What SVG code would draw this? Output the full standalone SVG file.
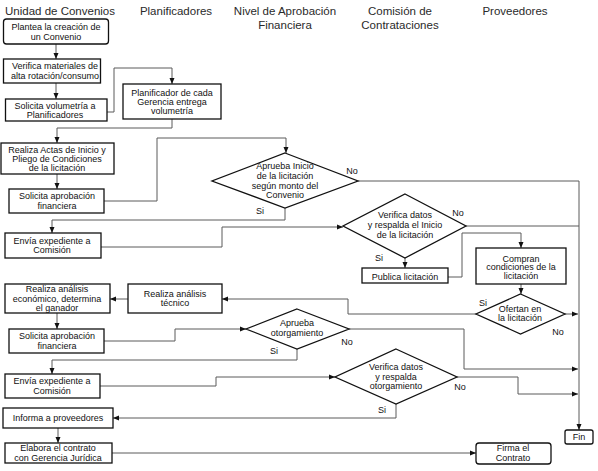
<svg xmlns="http://www.w3.org/2000/svg" width="598" height="471" viewBox="0 0 598 471">
<style>
.h{font-family:"Liberation Sans",Arial,sans-serif;font-size:11.5px;fill:#2a2a2a;text-anchor:middle}
.t{font-family:"Liberation Sans",Arial,sans-serif;font-size:9px;fill:#111;text-anchor:middle}
.b{fill:#fff;stroke:#111;stroke-width:1.3}
.c{fill:none;stroke:#5a5a5a;stroke-width:1}
</style>
<defs>
<marker id="a" markerUnits="userSpaceOnUse" markerWidth="6" markerHeight="6" refX="6" refY="3" orient="auto">
<path d="M0,0.5 L6,3 L0,5.5 z" fill="#111"/>
</marker>
</defs>
<rect width="598" height="471" fill="#fff"/>
<g id="headers">
<text class="h" x="60" y="15">Unidad de Convenios</text>
<text class="h" x="176" y="15">Planificadores</text>
<text class="h" x="285" y="15">Nivel de Aprobación</text>
<text class="h" x="285" y="29">Financiera</text>
<text class="h" x="400" y="15">Comisión de</text>
<text class="h" x="400" y="29">Contrataciones</text>
<text class="h" x="515" y="15">Proveedores</text>
</g>
<g id="connectors">
<path class="c" d="M56,44 V59" marker-end="url(#a)"/>
<path class="c" d="M56,83 V99" marker-end="url(#a)"/>
<path class="c" d="M107,112 H114 V68 H172 V84" marker-end="url(#a)"/>
<path class="c" d="M172,119 V128 H57 V143" marker-end="url(#a)"/>
<path class="c" d="M57,174 V189" marker-end="url(#a)"/>
<path class="c" d="M104,201 H157 V138 H286 V153" marker-end="url(#a)"/>
<path class="c" d="M285,208 V220 H52 V233" marker-end="url(#a)"/>
<path class="c" d="M358,181 H579 V430" marker-end="url(#a)"/>
<path class="c" d="M101,247 H222 V227 H343" marker-end="url(#a)"/>
<path class="c" d="M466,226 H579"/>
<path class="c" d="M405,258 V268" marker-end="url(#a)"/>
<path class="c" d="M448,277 H462 V233 H521 V248" marker-end="url(#a)"/>
<path class="c" d="M521,284 V294" marker-end="url(#a)"/>
<path class="c" d="M565,314 H578" marker-end="url(#a)"/>
<path class="c" d="M476,314 H348 V299 H222" marker-end="url(#a)"/>
<path class="c" d="M128,299 H110" marker-end="url(#a)"/>
<path class="c" d="M57,313 V329" marker-end="url(#a)"/>
<path class="c" d="M104,341 H175 V329 H246" marker-end="url(#a)"/>
<path class="c" d="M349,329 H464 V369 H578" marker-end="url(#a)"/>
<path class="c" d="M297,349 V360 H52 V374" marker-end="url(#a)"/>
<path class="c" d="M100,386 H216 V377 H335" marker-end="url(#a)"/>
<path class="c" d="M457,377 H518 V394 H578" marker-end="url(#a)"/>
<path class="c" d="M396,404 V418 H113" marker-end="url(#a)"/>
<path class="c" d="M58,428 V443" marker-end="url(#a)"/>
<path class="c" d="M112,453 H476" marker-end="url(#a)"/>
</g>
<g id="labels">
<text class="t" x="352" y="174">No</text>
<text class="t" x="260" y="214">Si</text>
<text class="t" x="458" y="216">No</text>
<text class="t" x="379" y="261">Si</text>
<text class="t" x="483" y="306">Si</text>
<text class="t" x="558" y="335">No</text>
<text class="t" x="347" y="345">No</text>
<text class="t" x="274" y="354">Si</text>
<text class="t" x="460" y="390">No</text>
<text class="t" x="382" y="413">Si</text>
</g>
<g id="n1"><rect class="b" x="3.5" y="19" width="105" height="25" rx="3"/><text class="t" x="56" y="30">Plantea la creación de</text><text class="t" x="56" y="39.5">un Convenio</text></g>
<g id="n2"><rect class="b" x="3.5" y="59" width="97" height="24"/><text class="t" x="55" y="69">Verifica materiales de</text><text class="t" x="55" y="79">alta rotación/consumo</text></g>
<g id="n3"><rect class="b" x="5.5" y="99" width="101.5" height="22"/><text class="t" x="55" y="109">Solicita volumetría a</text><text class="t" x="55" y="118">Planificadores</text></g>
<g id="n4"><rect class="b" x="123" y="84" width="98" height="35"/><text class="t" x="172" y="96">Planificador de cada</text><text class="t" x="172" y="105">Gerencia entrega</text><text class="t" x="172" y="114">volumetría</text></g>
<g id="n5"><rect class="b" x="1" y="143" width="113" height="31"/><text class="t" x="57" y="152.5">Realiza Actas de Inicio y</text><text class="t" x="57" y="161.5">Pliego de Condiciones</text><text class="t" x="57" y="170.5">de la licitación</text></g>
<g id="n6"><rect class="b" x="9" y="189" width="95" height="24"/><text class="t" x="57" y="199">Solicita aprobación</text><text class="t" x="57" y="208.5">financiera</text></g>
<g id="d1"><polygon class="b" points="285,153 358,181 285,208 212,181"/><text class="t" x="285" y="168.5">Aprueba Inicio</text><text class="t" x="285" y="178.5">de la licitación</text><text class="t" x="285" y="188.5">según monto del</text><text class="t" x="285" y="198">Convenio</text></g>
<g id="n7"><rect class="b" x="5" y="233" width="96" height="25"/><text class="t" x="52" y="243.5">Envía expediente a</text><text class="t" x="52" y="253">Comisión</text></g>
<g id="d2"><polygon class="b" points="405,194 466,226 405,258 343,226"/><text class="t" x="405" y="218">Verifica datos</text><text class="t" x="405" y="228">y respalda el Inicio</text><text class="t" x="405" y="237.5">de la licitación</text></g>
<g id="n8"><rect class="b" x="362" y="268" width="86" height="15"/><text class="t" x="405" y="279.5">Publica licitación</text></g>
<g id="n9"><rect class="b" x="476" y="248" width="90" height="36"/><text class="t" x="521" y="261.5">Compran</text><text class="t" x="521" y="270">condiciones de la</text><text class="t" x="521" y="278.5">licitación</text></g>
<g id="d3"><polygon class="b" points="520.5,294 565,314 520.5,334 476,314"/><text class="t" x="520" y="312">Ofertan en</text><text class="t" x="520" y="321">la licitación</text></g>
<g id="n10"><rect class="b" x="128" y="284" width="94" height="29"/><text class="t" x="175" y="296.5">Realiza análisis</text><text class="t" x="175" y="305.5">técnico</text></g>
<g id="n11"><rect class="b" x="5" y="284" width="105" height="29"/><text class="t" x="57" y="291.5">Realiza análisis</text><text class="t" x="57" y="301.5">económico, determina</text><text class="t" x="57" y="310.5">el ganador</text></g>
<g id="n12"><rect class="b" x="9" y="329" width="95" height="24"/><text class="t" x="57" y="339">Solicita aprobación</text><text class="t" x="57" y="349">financiera</text></g>
<g id="d4"><polygon class="b" points="297,309 349,329 297,349 246,329"/><text class="t" x="297" y="326">Aprueba</text><text class="t" x="297" y="336">otorgamiento</text></g>
<g id="n13"><rect class="b" x="5" y="374" width="95" height="24"/><text class="t" x="52" y="384">Envía expediente a</text><text class="t" x="52" y="393.5">Comisión</text></g>
<g id="d5"><polygon class="b" points="396,349 457,377 396,404 335,377"/><text class="t" x="396" y="370">Verifica datos</text><text class="t" x="396" y="379.5">y respalda</text><text class="t" x="396" y="388.5">otorgamiento</text></g>
<g id="n14"><rect class="b" x="3" y="408" width="110" height="20"/><text class="t" x="58" y="421">Informa a proveedores</text></g>
<g id="n15"><rect class="b" x="5" y="443" width="107" height="20"/><text class="t" x="58" y="450.5">Elabora el contrato</text><text class="t" x="58" y="461">con Gerencia Jurídica</text></g>
<g id="n16"><rect class="b" x="476" y="443" width="75" height="21" rx="3"/><text class="t" x="513" y="451">Firma el</text><text class="t" x="513" y="461">Contrato</text></g>
<g id="n17"><rect class="b" x="565" y="430" width="28" height="14" rx="2"/><text class="t" x="579" y="439.5">Fin</text></g>
</svg>
